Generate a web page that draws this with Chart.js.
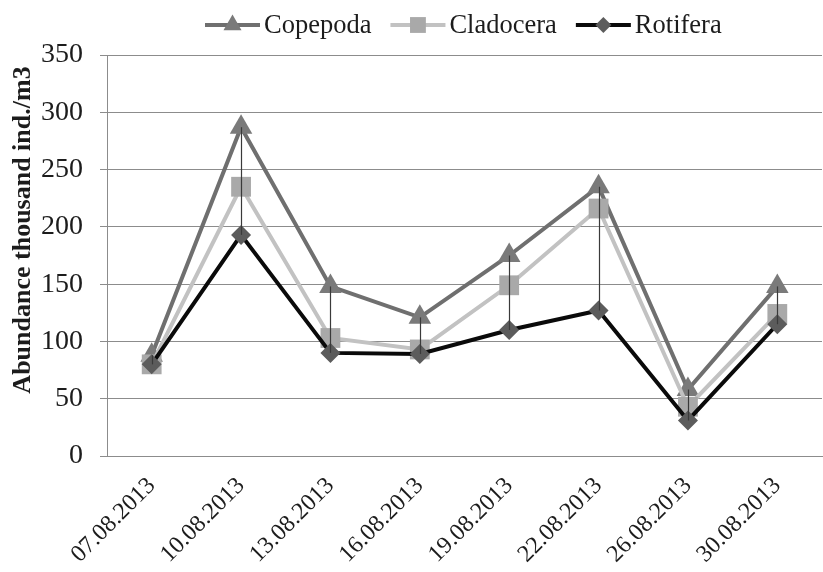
<!DOCTYPE html>
<html>
<head>
<meta charset="utf-8">
<script src="https://cdn.jsdelivr.net/npm/chart.js@4/dist/chart.umd.min.js"></script>
<style>
  html, body { margin: 0; padding: 0; background: #fff; overflow: hidden; }
  #wrap { position: absolute; left: 0; top: 0; width: 823px; height: 572px; overflow: hidden; }
  canvas { display: block; }
</style>
</head>
<body>
<div id="wrap"><canvas id="c" width="836" height="572"></canvas></div>
<script>
// Sampling dates
const dates = ['07.08.2013', '10.08.2013', '13.08.2013', '16.08.2013', '19.08.2013', '22.08.2013', '26.08.2013', '30.08.2013'];
// Abundance, thousand ind./m3
const copepoda  = [88, 287, 148, 121, 175, 235, 58, 148];
const cladocera = [80, 235, 103, 93, 149, 216, 43, 124];
const rotifera  = [80, 193, 90, 89, 110, 127, 31, 115];
const yTicks = [0, 50, 100, 150, 200, 250, 300, 350];

const SERIF = '"Liberation Serif", "Times New Roman", serif';
const TEXT = '#1c1c1c';
const GRID = '#8c8c8c';

const series = [
  { label: 'Copepoda',  data: copepoda,  line: '#6f6f6f', marker: '#7a7a7a', style: 'triangle', r: 13 },
  { label: 'Cladocera', data: cladocera, line: '#c2c2c2', marker: '#a9a9a9', style: 'rect',     r: 14 },
  { label: 'Rotifera',  data: rotifera,  line: '#0a0a0a', marker: '#5c5c5c', style: 'rectRot',  r: 10 }
];

// Marker shapes for the legend samples (same geometry as Chart.js point styles)
function drawMarker(ctx, style, x, y, r) {
  ctx.beginPath();
  if (style === 'triangle') {
    const w = r * Math.sin(2 * Math.PI / 3);
    ctx.moveTo(x, y - r);
    ctx.lineTo(x + w, y + r / 2);
    ctx.lineTo(x - w, y + r / 2);
  } else if (style === 'rect') {
    const s = r * Math.SQRT1_2;
    ctx.rect(x - s, y - s, 2 * s, 2 * s);
  } else {
    ctx.moveTo(x - r, y);
    ctx.lineTo(x, y - r);
    ctx.lineTo(x + r, y);
    ctx.lineTo(x, y + r);
  }
  ctx.closePath();
  ctx.fill();
}

// Legend row: line sample with marker, then the series name
const legendPlugin = {
  id: 'lineLegend',
  afterDraw(chart) {
    const ctx = chart.ctx;
    ctx.save();
    ctx.font = '26.5px ' + SERIF;
    ctx.textBaseline = 'middle';
    ctx.textAlign = 'left';
    let x = 205;
    const y = 25;
    const sample = 55;
    series.forEach(s => {
      ctx.strokeStyle = s.line;
      ctx.lineWidth = 4;
      ctx.beginPath();
      ctx.moveTo(x, y);
      ctx.lineTo(x + sample, y);
      ctx.stroke();
      ctx.fillStyle = s.marker;
      drawMarker(ctx, s.style, x + sample / 2, y, s.r * 0.8);
      ctx.fillStyle = TEXT;
      ctx.fillText(s.label, x + sample + 4, y + 1);
      x += sample + 4 + ctx.measureText(s.label).width + 19;
    });
    ctx.restore();
  }
};

// High-low lines joining the largest and smallest value of each date
const hiLoPlugin = {
  id: 'hiLoLines',
  afterDatasetsDraw(chart) {
    const { ctx, scales: { x, y } } = chart;
    ctx.save();
    ctx.strokeStyle = '#3a3a3a';
    ctx.lineWidth = 1.2;
    dates.forEach((d, i) => {
      const vals = [copepoda[i], cladocera[i], rotifera[i]];
      const px = Math.round(x.getPixelForValue(i)) + 0.5;
      ctx.beginPath();
      ctx.moveTo(px, y.getPixelForValue(Math.max(...vals)));
      ctx.lineTo(px, y.getPixelForValue(Math.min(...vals)));
      ctx.stroke();
    });
    ctx.restore();
  }
};

// Vertical axis title
const yTitlePlugin = {
  id: 'yTitle',
  afterDraw(chart) {
    const ctx = chart.ctx;
    ctx.save();
    ctx.translate(23, 230);
    ctx.rotate(-Math.PI / 2);
    ctx.font = 'bold 26px ' + SERIF;
    ctx.fillStyle = TEXT;
    ctx.textAlign = 'center';
    ctx.textBaseline = 'middle';
    ctx.fillText('Abundance thousand ind./m3', 0, 0);
    ctx.restore();
  }
};

new Chart(document.getElementById('c'), {
  type: 'line',
  data: {
    labels: dates,
    datasets: series.map((s, i) => ({
      label: s.label,
      data: s.data,
      borderColor: s.line,
      borderWidth: 4,
      backgroundColor: s.marker,
      pointStyle: s.style,
      pointRadius: s.r,
      pointHoverRadius: s.r,
      pointBackgroundColor: s.marker,
      pointBorderColor: s.marker,
      pointBorderWidth: 0,
      tension: 0,
      fill: false,
      order: 3 - i
    }))
  },
  plugins: [hiLoPlugin, legendPlugin, yTitlePlugin],
  options: {
    responsive: false,
    animation: false,
    events: [],
    layout: { padding: { left: 0, right: 5, top: 55, bottom: 0 } },
    plugins: {
      legend: { display: false },
      tooltip: { enabled: false },
      title: { display: false }
    },
    scales: {
      x: {
        type: 'category',
        offset: true,
        grid: { display: false, drawTicks: false },
        border: { display: true, color: GRID, width: 1 },
        ticks: {
          color: TEXT,
          font: { family: SERIF, size: 24 },
          minRotation: 45,
          maxRotation: 45,
          padding: 16,
          autoSkip: false
        },
        afterFit(scale) { scale.height = 116; }
      },
      y: {
        min: 0,
        max: 350,
        afterBuildTicks(scale) { scale.ticks = yTicks.map(v => ({ value: v })); },
        grid: { color: GRID, lineWidth: 1, drawTicks: true, tickLength: 7, tickColor: GRID },
        border: { display: true, color: GRID, width: 1 },
        ticks: {
          color: TEXT,
          font: { family: SERIF, size: 28 },
          padding: 17
        },
        afterFit(scale) { scale.width = 107; }
      }
    }
  }
});
</script>
</body>
</html>
